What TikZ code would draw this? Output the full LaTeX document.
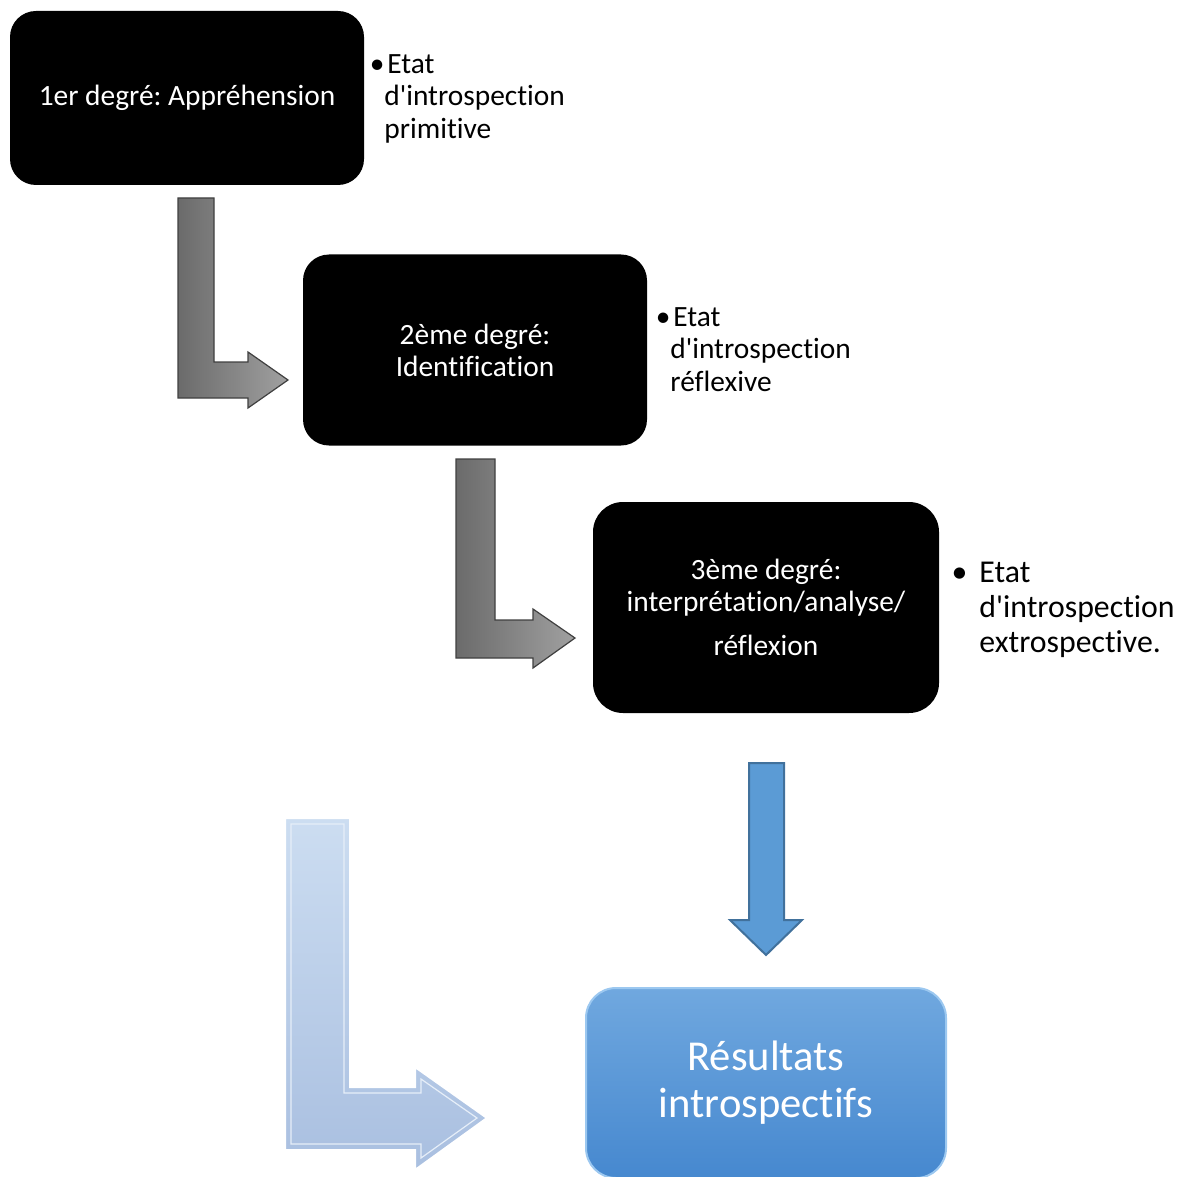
\documentclass[tikz,border=0pt]{standalone}
\usepackage{fontspec}
\setmainfont{Carlito}[Ligatures=NoCommon]
\usetikzlibrary{positioning}
\frenchspacing

\definecolor{arrowdark}{HTML}{6B6B6B}
\definecolor{arrowlight}{HTML}{A0A0A0}
\definecolor{fadetop}{HTML}{CCDDF1}
\definecolor{fadebottom}{HTML}{A9BFE0}
\definecolor{restop}{HTML}{70A8DF}
\definecolor{resbottom}{HTML}{4688CF}
\definecolor{resrim}{HTML}{9CC8F0}
\definecolor{downfill}{HTML}{5B9BD5}
\definecolor{downrim}{HTML}{41719C}

\newcommand{\apos}{\textquotesingle}

\begin{document}
\begin{tikzpicture}[x=0.5pt,y=-0.5pt,
    degbox/.style={fill=black, rounded corners=13pt, text=white, align=center,
        font=\fontsize{14.7}{16}\selectfont, inner sep=0pt},
    note/.style={align=left, anchor=north west, inner sep=0pt,
        font=\fontsize{14.7}{16.2}\selectfont},
    grayarrow/.style={left color=arrowdark, right color=arrowlight, draw=black!75, line width=0.6pt},
    fadearrow/.style={top color=fadetop, bottom color=fadebottom, draw=white, line width=1pt},
    bevel/.style={draw=white!50!fadetop, line width=0.6pt},
    downarrow/.style={fill=downfill, draw=downrim, line width=1pt},
    resbox/.style={top color=restop, bottom color=resbottom, draw=resrim, line width=1pt,
        rounded corners=15pt, text=white, align=center,
        font=\fontsize{21.3}{23.5}\selectfont, inner sep=0pt}]
\useasboundingbox (0,0) rectangle (1186,1176);

% degree boxes
\node[degbox, minimum width=177pt, minimum height=87pt] (deg1) at (187,98) {1er degré: Appréhension};
\node[degbox, minimum width=172pt, minimum height=95.5pt] (deg2) at (475,350) {2ème degré:\\Identification};
\node[degbox, minimum width=173pt, minimum height=105.5pt, rounded corners=15pt] (deg3) at (766,607.5)
    {3ème degré:\\interprétation/analyse/\\[6pt]réflexion};

% notes
\node[note] (note1) at (384,54) {\llap{\textbullet}\hspace{1.5pt}Etat\\d\apos introspection\\primitive};
\node[note] (note2) at (670,307) {\llap{\textbullet}\hspace{1.5pt}Etat\\d\apos introspection\\réflexive};
\node[note, font=\fontsize{15.9}{17.5}\selectfont] (note3) at (979,562)
    {\llap{\textbullet\hspace{6pt}}Etat\\d\apos introspection\\extrospective.};

% bent arrows
\draw[grayarrow] (178,198) -- (214,198) -- (214,362) -- (248,362) -- (248,352) -- (288,380)
    -- (248,408) -- (248,398) -- (178,398) -- cycle;
\draw[grayarrow] (456,459) -- (495,459) -- (495,620) -- (533,620) -- (533,609) -- (575,638)
    -- (533,668) -- (533,658) -- (456,658) -- cycle;
\draw[fadearrow] (285,818) -- (350,818) -- (350,1087) -- (415,1087) -- (415,1067) -- (487,1118)
    -- (415,1170) -- (415,1150) -- (285,1150) -- cycle;
\draw[bevel] (291,824) -- (344,824) -- (344,1093) -- (421,1093) -- (421,1079) -- (477,1118)
    -- (421,1158) -- (421,1144) -- (291,1144) -- cycle;

% result
\draw[downarrow] (749,763) -- (784,763) -- (784,920) -- (802,920) -- (766,955) -- (730,920)
    -- (749,920) -- cycle;
\node[resbox, minimum width=180pt, minimum height=95pt] (res) at (766,1083) {Résultats\\introspectifs};
\end{tikzpicture}
\end{document}
